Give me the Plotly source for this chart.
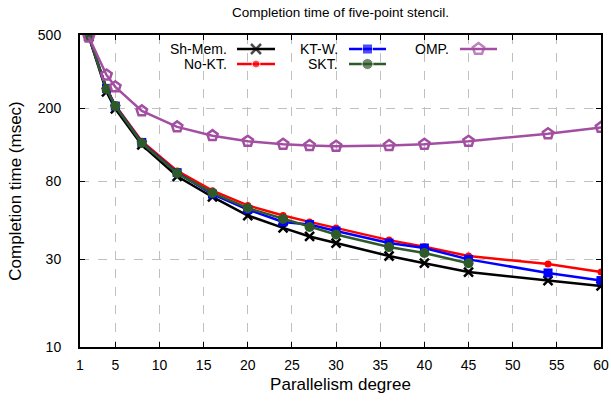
import plotly.graph_objects as go

# Data
x_all = [2, 4, 5, 8, 12, 16, 20, 24, 27, 30, 36, 40, 45, 54, 60]
x_skt = [2, 4, 5, 8, 12, 16, 20, 24, 27, 30, 36, 40, 45]

sh_mem = [490, 245, 198, 126, 85, 65.6, 52, 44.5, 40, 36.8, 31.3, 28.6, 25.6, 23, 21.5]
no_kt = [490, 256, 207, 132, 91, 71, 59, 52, 48, 44.5, 38.2, 35.2, 31.3, 28.3, 25.6]
kt_w = [492, 256, 205, 130, 89, 68, 56, 48, 46.4, 42.8, 36.8, 34.6, 30, 25.3, 23]
skt = [490, 254, 205, 129, 88.5, 69, 57, 49.8, 45, 41, 35, 32.5, 28.6]
omp = [488, 303, 261, 193, 158, 141.5, 132, 127, 125, 124, 125, 127, 132, 145, 157]

series_names = ["Sh-Mem.", "No-KT.", "KT-W.", "SKT.", "OMP."]

x_ticks = [1, 5, 10, 15, 20, 25, 30, 35, 40, 45, 50, 55, 60]
y_ticks = [10, 30, 80, 200, 500]

FONT = "Liberation Sans, Arial, sans-serif"
W, H = 611, 403
L, R, T, B = 80, 10, 35, 56
PW, PH = W - L - R, H - T - B

colors = ["black", "#ff0000", "#0000ff", "#2e5a2a", "#a24fa2"]
markers = [
    dict(symbol="x-thin", size=9, line=dict(width=2.5)),
    dict(symbol="circle", size=7),
    dict(symbol="square", size=9),
    dict(symbol="circle", size=10),
    dict(symbol="pentagon-open", size=11, line=dict(width=2.5)),
]
xs_list = [x_all, x_all, x_all, x_skt, x_all]
ys_list = [sh_mem, no_kt, kt_w, skt, omp]

fig = go.Figure()


def mk_for(i, size=None):
    m = dict(markers[i])
    m["color"] = colors[i]
    if "line" in m:
        m["line"] = dict(m["line"], color=colors[i])
    if size is not None:
        m["size"] = size
    return m


for i, name in enumerate(series_names):
    fig.add_trace(go.Scatter(
        x=xs_list[i], y=ys_list[i], name=name, mode="lines+markers",
        line=dict(color=colors[i], width=2.5), marker=mk_for(i),
        showlegend=False,
    ))

# Custom gnuplot-style legend (text on the left, sample on the right)
# legend slot layout in pixels: (text right edge, sample left, sample right, row y)
slots = [(229, 237, 275, 49), (229, 237, 275, 64), (340, 349, 386, 49), (340, 349, 386, 64), (451, 460, 497, 49)]


def px_x(p):
    return (p - L) / PW


def px_y(p):
    return (H - B - p) / PH


for i, name in enumerate(series_names):
    tr, s0, s1, ry = slots[i]
    fig.add_annotation(text=name, x=px_x(tr), y=px_y(ry), xref="paper", yref="paper",
                       xanchor="right", yanchor="middle", showarrow=False,
                       font=dict(size=14, family=FONT, color="black"))
    sz = markers[i]["size"]
    fig.add_trace(go.Scatter(
        x=[px_x(s0), px_x((s0 + s1) / 2), px_x(s1)], y=[px_y(ry)] * 3,
        xaxis="x2", yaxis="y2", mode="lines+markers",
        line=dict(color=colors[i], width=2.5),
        marker=dict(mk_for(i), size=[0, sz + 1, 0]),
        showlegend=False, hoverinfo="skip", cliponaxis=False,
    ))

fig.update_layout(
    width=W, height=H,
    margin=dict(l=L, r=R, t=T, b=B),
    paper_bgcolor="white", plot_bgcolor="white",
    font=dict(family=FONT, size=14, color="black"),
    title=dict(text="Completion time of five-point stencil.", x=(L + PW / 2) / W, xanchor="center",
               y=1 - 12 / H, yanchor="middle", font=dict(size=13.5)),
    showlegend=False,
    xaxis2=dict(overlaying="x", range=[0, 1], visible=False, fixedrange=True),
    yaxis2=dict(overlaying="y", range=[0, 1], visible=False, fixedrange=True),
)

fig.update_layout(xaxis=dict(
    range=[1, 60], tickvals=x_ticks, ticktext=[str(v) for v in x_ticks],
    showgrid=True, gridcolor="#c0c0c0", griddash="dash", gridwidth=1,
    showline=True, linecolor="black", linewidth=2, mirror="allticks",
    ticks="inside", ticklen=5, tickcolor="black", zeroline=False,
    automargin=False, ticklabelstandoff=4,
    title=dict(text="Parallelism degree", standoff=6),
))
fig.update_layout(yaxis=dict(
    type="log", range=[1, 2.69897], tickvals=y_ticks, ticktext=[str(v) for v in y_ticks],
    showgrid=True, gridcolor="#c0c0c0", griddash="dash", gridwidth=1,
    showline=True, linecolor="black", linewidth=2, mirror="allticks",
    ticks="inside", ticklen=5, tickcolor="black", zeroline=False,
    automargin=False, ticklabelstandoff=14,
    title=dict(text="Completion time (msec)", standoff=12),
))

fig.write_html("out.html", config={"displayModeBar": False},
               post_script="document.body.style.margin='0';document.body.style.padding='0';")
